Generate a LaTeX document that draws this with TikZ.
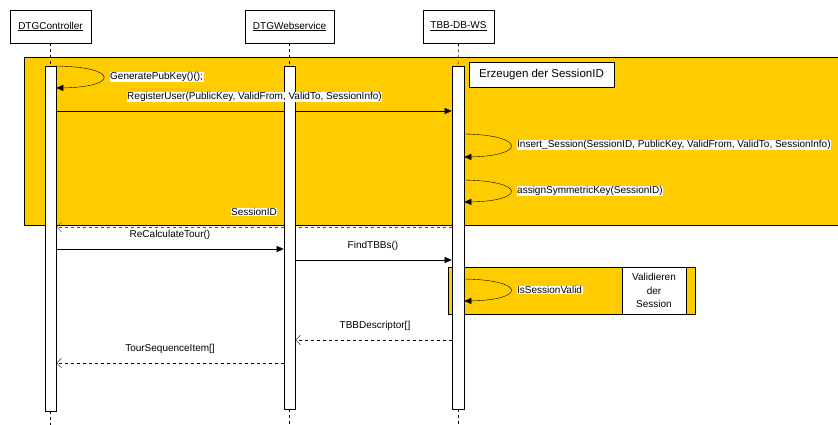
\documentclass[tikz,border=0pt]{standalone}
\usepackage{fontspec}
\setmainfont{Liberation Sans}
\usepackage{xcolor}
\usetikzlibrary{arrows.meta,backgrounds}
\definecolor{fragyellow}{RGB}{255,204,0}

\begin{document}
\begin{tikzpicture}[x=1pt,y=-1pt,line width=0.6pt,
    font=\fontsize{10}{12}\selectfont,
    head/.style={draw,fill=white,minimum height=33pt,inner sep=0pt},
    bar/.style={draw,fill=white,minimum width=11pt,inner sep=0pt},
    life/.style={dashed},
    call/.style={-{Triangle[length=7pt,width=6pt]}},
    reply/.style={dashed,-{Straight Barb[length=5pt,width=10pt]}},
    msg/.style={fill=white,inner sep=0.5pt}]
  \useasboundingbox (0,0) rectangle (838,425);
  % lifeline heads and activation bars
  \node[head,minimum width=81pt] (head-ctl) at (50.5,26.5) {\underline{DTGController}};
  \node[head,minimum width=89pt] (head-web) at (289.5,26.5) {\underline{DTGWebservice}};
  \node[head,minimum width=71pt] (head-tbb) at (458.5,26.5) {\underline{TBB-DB-WS}};
  \node[bar,minimum height=345pt] (ctl) at (50.5,238.5) {};
  \node[bar,minimum height=343pt] (web) at (289.5,237.5) {};
  \node[bar,minimum width=12pt,minimum height=343pt] (tbb) at (458,237.5) {};
  \foreach \n in {ctl,web,tbb}{
    \draw[life] (head-\n.south) -- (\n.north);
    \draw[life] (\n.south) -- (\n.south |- 0,425);
  }
  % fragments
  \begin{pgfonlayer}{background}
    \draw[fill=fragyellow] (24,57) rectangle (860,225);
    \draw[fill=fragyellow] (448,267) rectangle (695,314);
    \draw[call] (ctl.east |- 0,111) -- (tbb.west |- 0,111);
    \draw[reply,black!70] (tbb.west |- 0,227) -- (ctl.east |- 0,227);
  \end{pgfonlayer}
  \node[draw,fill=white,minimum width=145pt,minimum height=25pt,
    font=\fontsize{11.5}{13}\selectfont] (erzeugen) at (541.5,74.5) {Erzeugen der SessionID};
  \node[draw,fill=white,minimum width=64pt,minimum height=47pt,inner sep=0pt,
    align=center,font=\fontsize{10}{13.5}\selectfont] (validieren) at (654,290.5) {Validieren\\der\\Session};
  % messages
  \draw[call] (ctl.east |- 0,66) .. controls (119,67) and (119,87) .. (ctl.east |- 0,88);
  \draw[call] (tbb.east |- 0,134) .. controls (526,135) and (526,156) .. (tbb.east |- 0,157);
  \draw[call] (tbb.east |- 0,180) .. controls (526,181) and (526,201) .. (tbb.east |- 0,202);
  \draw[call] (ctl.east |- 0,249) -- (web.west |- 0,249);
  \draw[call] (web.east |- 0,260) -- (tbb.west |- 0,260);
  \draw[call] (tbb.east |- 0,279) .. controls (526,280) and (526,300) .. (tbb.east |- 0,301);
  \draw[reply] (tbb.west |- 0,340) -- (web.east |- 0,340);
  \draw[reply] (web.west |- 0,363) -- (ctl.east |- 0,363);
  \node[msg,anchor=west] (genkey) at (109.5,77) {GeneratePubKey()();};
  \node[msg] (register) at (254.5,97) {RegisterUser(PublicKey, ValidFrom, ValidTo, SessionInfo)};
  \node[msg,anchor=west] (insert) at (516.5,145) {Insert\_Session(SessionID, PublicKey, ValidFrom, ValidTo, SessionInfo)};
  \node[msg,anchor=west] (assign) at (516.5,191) {assignSymmetricKey(SessionID)};
  \node[msg] (sessionid) at (254,212) {SessionID};
  \node[msg] (recalc) at (170,235) {ReCalculateTour()};
  \node[msg] (findtbbs) at (373,246) {FindTBBs()};
  \node[msg,anchor=west] (isvalid) at (516.5,290) {IsSessionValid};
  \node[msg] (tbbdesc) at (375,326) {TBBDescriptor[]};
  \node[msg] (tourseq) at (170,349) {TourSequenceItem[]};
\end{tikzpicture}
\end{document}
